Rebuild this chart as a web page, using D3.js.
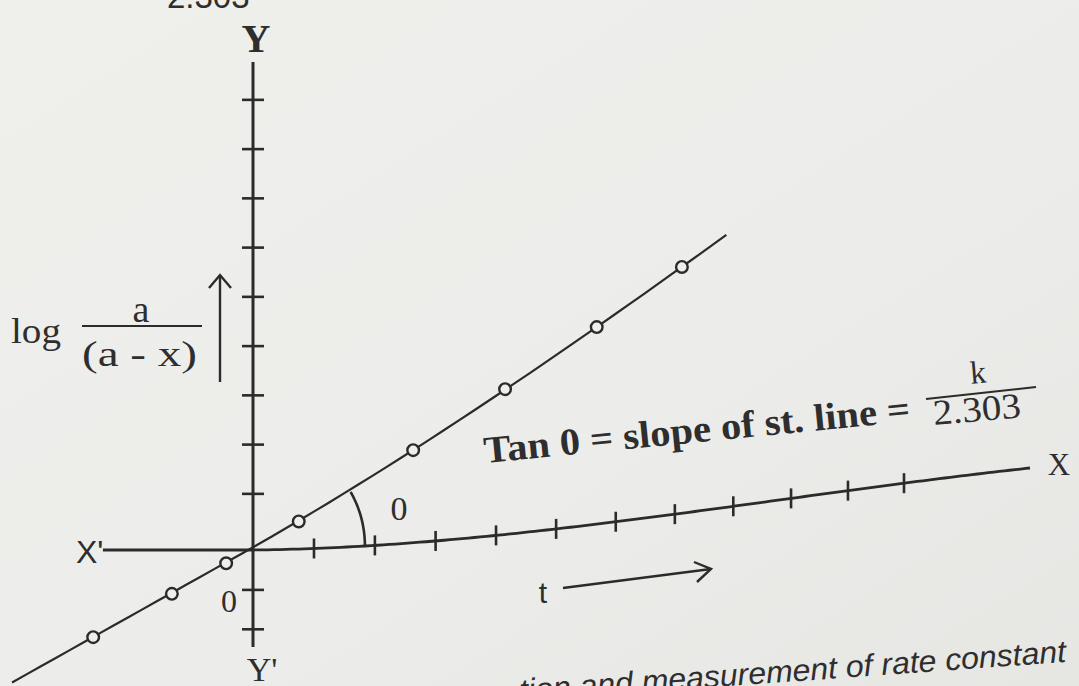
<!DOCTYPE html>
<html>
<head>
<meta charset="utf-8">
<script src="https://cdn.jsdelivr.net/npm/d3@7"></script>
<style>
  html, body { margin: 0; padding: 0; background: #ecece9; }
  svg { display: block; }
</style>
</head>
<body>
<svg id="chart" width="1079" height="686"></svg>
<script>
// ---- data -------------------------------------------------------------
// tick marks on the time (t) axis
const tTicks = [1, 2, 3, 4, 5, 6, 7, 8, 9, 10, 11];
// tick marks on the log a/(a-x) axis
const logTicks = [-1.6, -0.8, 1.15, 2.15, 3.15, 4.15, 5.15, 6.15, 7.15, 8.15, 9.15];
// plotted observations
const tValues   = [-2.62, -1.33, -0.44, 0.75, 2.63, 4.15, 5.68, 7.12];
const logValues = [-1.77, -0.89, -0.27, 0.56, 1.88, 2.95, 4.00, 5.00];
// ends of the straight line drawn through the observations
const lineT   = [-3.95, 7.88];
const lineLog = [-2.69, 5.53];
// extent of the two axes
const tAxisExtent   = [-2.46, 13.32];
const logAxisExtent = [-1.97, 9.91];

// ---- scales -----------------------------------------------------------
const x = d3.scaleLinear().domain([0, 1]).range([253, 314]);
const y = d3.scaleLinear().domain([0, 1]).range([550, 500.75]);
const x0 = x(0);

// the printed page is curled: right of the origin it recedes and lifts
function page(px, py) {
  let dx = px - x0;
  if (dx <= 0) return [px, py];
  const u0 = dx / 100;
  dx = dx - 6.62 * u0 * u0 * u0 / 100;          // foreshortening
  const u = dx / 100;
  const lift = -1.084 * u - 2.398 * u * u + 0.1518 * u * u * u;
  return [x0 + dx, py + lift];
}
function pt(t, v) { return page(x(t), y(v)); }

const ink = "#2b2b2b";
const svg = d3.select("#chart");

// paper tone
const defs = svg.append("defs");
const grad = defs.append("linearGradient").attr("id", "paper")
  .attr("x1", 0).attr("y1", 0).attr("x2", 1).attr("y2", 1);
grad.append("stop").attr("offset", 0).attr("stop-color", "#efefec");
grad.append("stop").attr("offset", 0.6).attr("stop-color", "#ececea");
grad.append("stop").attr("offset", 1).attr("stop-color", "#e6e6e3");
svg.append("rect").attr("width", 1079).attr("height", 686).attr("fill", "url(#paper)");

const lineGen = d3.line();

// ---- t axis (X' ... X) -------------------------------------------------
const tSamples = d3.range(tAxisExtent[0], tAxisExtent[1], 0.1).concat([tAxisExtent[1]]);
svg.append("path")
  .attr("d", lineGen(tSamples.map(t => pt(t, 0))))
  .attr("fill", "none").attr("stroke", ink).attr("stroke-width", 2.8);

svg.append("g").selectAll("line").data(tTicks).join("line")
  .each(function (t) {
    const [px, py] = pt(t, 0);
    d3.select(this).attr("x1", px).attr("x2", px).attr("y1", py - 10).attr("y2", py + 10);
  })
  .attr("stroke", ink).attr("stroke-width", 2.6);

// ---- log axis (Y ... Y') -----------------------------------------------
svg.append("line")
  .attr("x1", x0).attr("x2", x0)
  .attr("y1", y(logAxisExtent[1])).attr("y2", y(logAxisExtent[0]))
  .attr("stroke", ink).attr("stroke-width", 3);

const yAxis = svg.append("g")
  .attr("transform", `translate(${x0 - 11},0)`)
  .call(d3.axisRight(y).tickValues(logTicks).tickSize(22).tickFormat(""));
yAxis.select(".domain").remove();
yAxis.selectAll("line").attr("stroke", ink).attr("stroke-width", 2.6);

// ---- straight line through the observations -----------------------------
const interp = d3.interpolateNumber(lineLog[0], lineLog[1]);
const lineSamples = d3.range(0, 1.0001, 0.02).map(f => {
  const t = lineT[0] + f * (lineT[1] - lineT[0]);
  return pt(t, interp(f));
});
svg.append("path")
  .attr("d", lineGen(lineSamples))
  .attr("fill", "none").attr("stroke", ink).attr("stroke-width", 2.2);

// angle arc between the t axis and the line
const theta = Math.atan2(y(lineLog[0]) - y(lineLog[1]), x(lineT[1]) - x(lineT[0]));
const arcR = 112;
const arcPts = d3.range(0, 1.0001, 0.05).map(f => {
  const a = f * theta;
  return page(x0 + arcR * Math.cos(a), y(0) - arcR * Math.sin(a));
});
svg.append("path")
  .attr("d", lineGen(arcPts))
  .attr("fill", "none").attr("stroke", ink).attr("stroke-width", 2.6);

// observation markers
svg.append("g").selectAll("circle").data(tValues).join("circle")
  .each(function (t, i) {
    const [px, py] = pt(t, logValues[i]);
    d3.select(this).attr("cx", px).attr("cy", py);
  })
  .attr("r", 5.8).attr("fill", "#efefec").attr("stroke", ink).attr("stroke-width", 2.4);

// ---- labels ------------------------------------------------------------
const serif = "'Liberation Serif', 'Times New Roman', serif";
const sans = "'Liberation Sans', Arial, sans-serif";

function label(txt, px, py, opts = {}) {
  const el = svg.append("text")
    .attr("x", px).attr("y", py)
    .attr("font-family", opts.family || serif)
    .attr("font-size", opts.size || 32)
    .attr("font-weight", opts.weight || "normal")
    .attr("font-style", opts.style || "normal")
    .attr("text-anchor", opts.anchor || "start")
    .attr("fill", opts.fill || "#2e2e2e")
    .text(txt);
  if (opts.rotate) el.attr("transform", `rotate(${opts.rotate},${px},${py})`);
  if (opts.length) el.attr("textLength", opts.length).attr("lengthAdjust", "spacingAndGlyphs");
  return el;
}

// tail of the preceding equation at the page top
label("2.303", 167, 8, { family: sans, size: 33 });

label("Y", 256, 52, { size: 40, weight: "bold", anchor: "middle" });
label("Y'", 262, 681, { size: 34, anchor: "middle" });
label("X'", 76, 563, { family: sans, size: 32 });
label("X", 1059, 475, { size: 31, anchor: "middle" });
label("0", 229, 612, { size: 32, anchor: "middle" });
label("0", 399, 520, { size: 34, anchor: "middle" });

// y quantity: log a/(a - x) with an upward arrow
label("log", 11, 343, { size: 36, length: 50 });
label("a", 141, 322, { size: 38, anchor: "middle" });
svg.append("line").attr("x1", 82).attr("x2", 202).attr("y1", 326).attr("y2", 326)
  .attr("stroke", ink).attr("stroke-width", 2);
label("(a  -  x)", 82, 366, { size: 35, length: 115 });
svg.append("line").attr("x1", 220).attr("x2", 220).attr("y1", 275).attr("y2", 382)
  .attr("stroke", ink).attr("stroke-width", 2.4);
svg.append("path").attr("d", "M209,288 L220,275 L231,288")
  .attr("fill", "none").attr("stroke", ink).attr("stroke-width", 2.4);

// x quantity: t with a rightward arrow
label("t", 543, 603, { family: sans, size: 30, anchor: "middle" });
svg.append("line").attr("x1", 563).attr("y1", 588).attr("x2", 711).attr("y2", 569)
  .attr("stroke", ink).attr("stroke-width", 2.4);
svg.append("path").attr("d", "M694,562 L711,569 L697,582")
  .attr("fill", "none").attr("stroke", ink).attr("stroke-width", 2.4);

// slope statement
label("Tan 0 = slope of st. line =", 485, 463, { size: 38, weight: "bold", rotate: -5.6, length: 428 });
label("k", 979, 383, { size: 32, anchor: "middle", rotate: -5 });
svg.append("line").attr("x1", 926).attr("y1", 399).attr("x2", 1036).attr("y2", 387)
  .attr("stroke", ink).attr("stroke-width", 2);
label("2.303", 934, 425, { size: 36, rotate: -5, length: 88 });

// figure caption, partly below the page edge
label("tion and measurement of rate constant", 520, 701,
  { family: sans, size: 31, style: "italic", rotate: -4.1, length: 548 });
</script>
</body>
</html>
